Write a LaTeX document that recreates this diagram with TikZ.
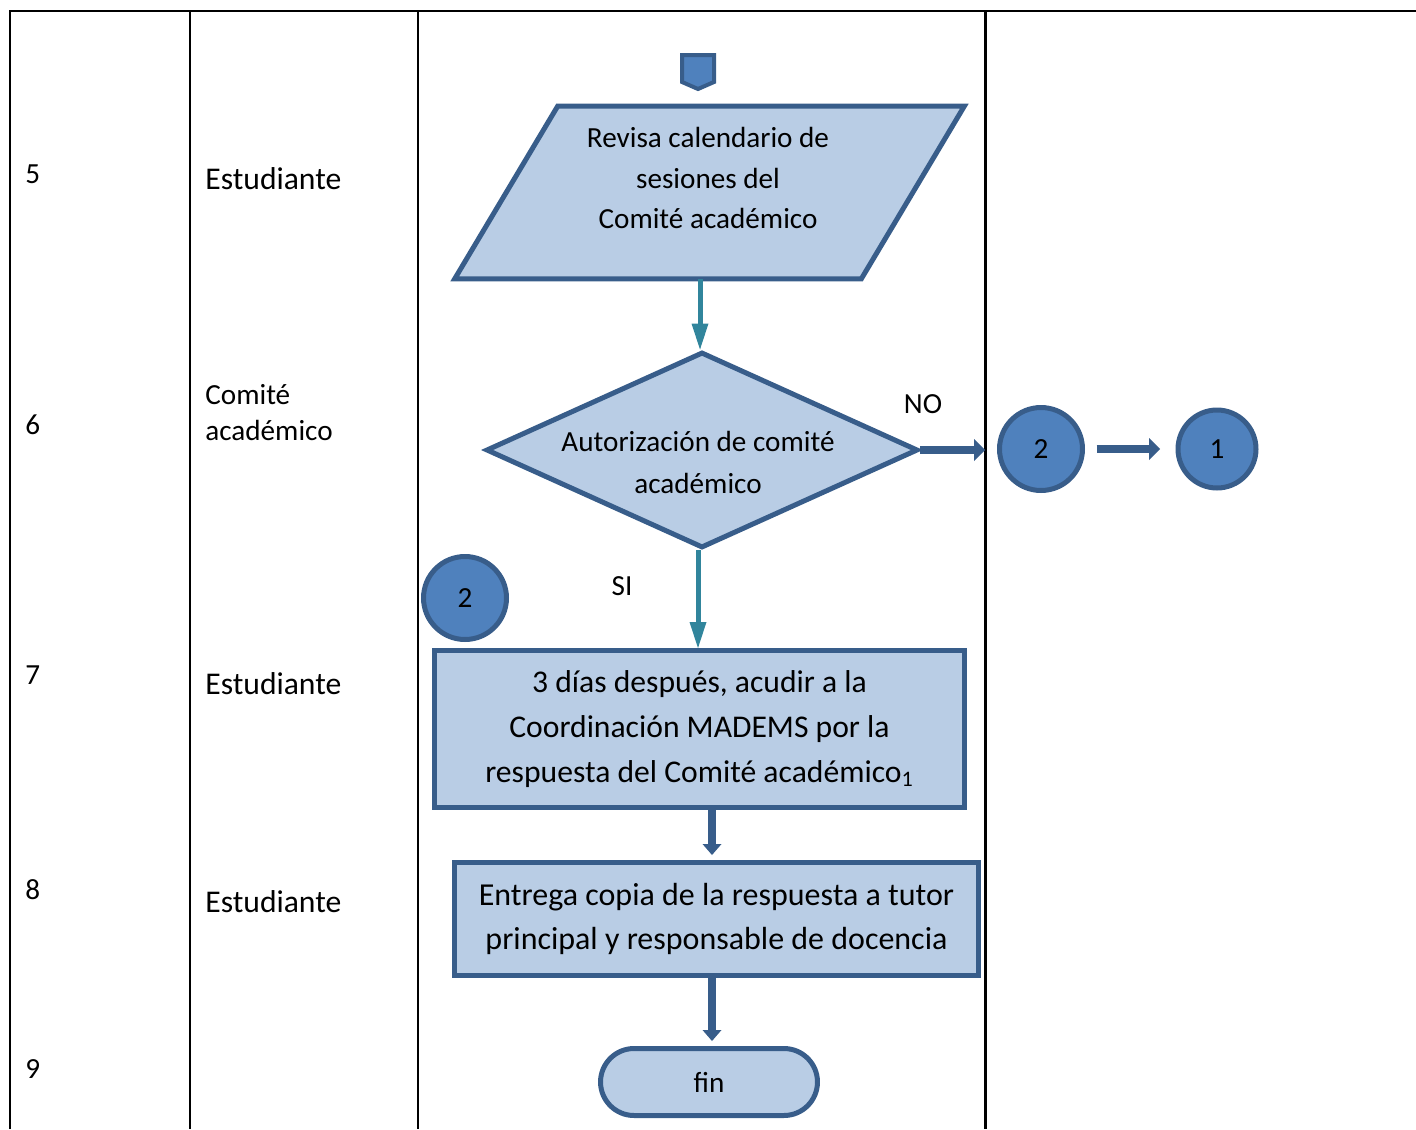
\documentclass[tikz,border=0pt]{standalone}
\usepackage{fontspec}
\setmainfont{Carlito}
\usetikzlibrary{shapes.geometric,shapes.misc}
\definecolor{cajafill}{HTML}{B9CDE5}
\definecolor{cajaline}{HTML}{385D8A}
\definecolor{circfill}{HTML}{4F81BD}
\definecolor{flecha}{HTML}{31859C}
\newcommand{\txtchico}{\fontsize{16.6}{23.3}\selectfont}
\newcommand{\txtgrande}{\fontsize{18}{25.3}\selectfont}

\begin{document}
\begin{tikzpicture}[x=0.02cm, y=0.02cm]
\tikzstyle{every node}+=[inner sep=0pt]
\tikzstyle{caja}=[draw=cajaline, fill=cajafill, line width=0.1cm, align=center]
\tikzstyle{circulo}=[circle, draw=cajaline, fill=circfill, line width=0.1cm, font=\txtchico]
\tikzstyle{rol}=[anchor=west, align=left]
\tikzstyle{fl}=[flecha, line width=0.1cm]
\tikzstyle{flo}=[cajaline, line width=0.16cm]
\useasboundingbox (0,0) rectangle (1416,-1129);
% tabla
\draw [black, line width=1.7pt] (10,-1129) -- (10,-11) -- (1416,-11);
\draw [black, line width=1.7pt] (190,-11) -- (190,-1129);
\draw [black, line width=1.7pt] (418,-11) -- (418,-1129);
\draw [black, line width=1.7pt] (985,-11) -- (985,-1129);
\node [rol, font=\txtchico] (n5) at (25,-174) {5};
\node [rol, font=\txtchico] (n6) at (25,-425) {6};
\node [rol, font=\txtchico] (n7) at (25,-675) {7};
\node [rol, font=\txtchico] (n8) at (25,-890) {8};
\node [rol, font=\txtchico] (n9) at (25,-1069) {9};
\node [rol, font=\txtgrande] (est5) at (205,-179) {Estudiante};
\node [rol, font=\fontsize{16.6}{20.5}\selectfont] (com6) at (205,-413) {Comité\\académico};
\node [rol, font=\txtgrande] (est7) at (205,-684) {Estudiante};
\node [rol, font=\txtgrande] (est8) at (205,-902) {Estudiante};
% conector de pagina
\draw [cajaline, fill=circfill, line width=0.08cm] (682,-55) -- (714,-55) -- (714,-82) -- (698,-89) -- (682,-82) -- cycle;
% figuras
\node [minimum width=10.18cm, minimum height=3.44cm] (rev) at (709.5,-192.5) {};
\draw [caja, line join=miter] ([xshift=2.06cm]rev.north west) -- (rev.north east) -- ([xshift=-2.06cm]rev.south east) -- (rev.south west) -- cycle;
\node [font=\txtchico, align=center] (revtxt) at (708,-178) {Revisa calendario de\\sesiones del\\Comité académico};
\node [caja, diamond, aspect=2.2, minimum width=8.64cm, minimum height=3.92cm] (aut) at (702,-450) {};
\node [font=\fontsize{16.6}{23.9}\selectfont, align=center] (auttxt) at (698,-462) {Autorización de comité\\académico};
\node [circulo, minimum size=1.66cm] (c2r) at (1041,-449) {2};
\node [circulo, minimum size=1.56cm] (c1) at (1217,-449) {1};
\node [circulo, minimum size=1.66cm] (c2l) at (465,-598) {2};
\node [caja, minimum width=10.6cm, minimum height=3.14cm, font=\fontsize{18}{25.6}\selectfont] (dias) at (699.5,-729)
  {3 días después, acudir a la\\Coordinación MADEMS por la\\respuesta del Comité académico\textsubscript{1}};
\node [caja, minimum width=10.48cm, minimum height=2.26cm, font=\fontsize{18.2}{25.3}\selectfont] (entr) at (716.5,-919)
  {Entrega copia de la respuesta a tutor\\principal y responsable de docencia};
\node [caja, rounded rectangle, minimum width=4.34cm, minimum height=1.34cm, font=\txtchico] (fin) at (709,-1082) {fin};
\node [font=\txtchico] (no) at (923,-404) {NO};
\node [font=\txtchico] (si) at (622,-586) {SI};
\coordinate (eje) at (712,-1000);
% flechas
\draw [fl, shorten >=0.4cm] ([xshift=-0.04cm]aut.north |- rev.south) -- ([xshift=-0.04cm]aut.north);
\fill [flecha] ([xshift=-0.04cm]aut.north) -- ++(-8.5,26) -- ++(17,0) -- cycle;
\draw [fl, shorten >=0.4cm] ([xshift=-0.08cm]aut.south) -- ([xshift=-0.08cm]aut.south |- dias.north);
\fill [flecha] ([xshift=-0.08cm]aut.south |- dias.north) -- ++(-8.5,26) -- ++(17,0) -- cycle;
\coordinate (noend) at (985,-450);
\draw [flo, shorten >=0.15cm] (aut.east) -- (noend);
\fill [cajaline] (noend) -- ++(-11,11) -- ++(0,-22) -- cycle;
\draw [flo, shorten <=0.23cm, shorten >=0.45cm] (c2r.east) -- (c1.west);
\fill [cajaline] ([xshift=-0.31cm]c1.west) -- ++(-11,11) -- ++(0,-22) -- cycle;
\draw [flo, shorten >=0.15cm] (dias.south -| eje) -- ([yshift=0.1cm]entr.north -| eje);
\fill [cajaline] ([yshift=0.1cm]entr.north -| eje) -- ++(-9.5,11) -- ++(19,0) -- cycle;
\draw [flo, shorten >=0.15cm] (entr.south -| eje) -- ([yshift=0.1cm]fin.north -| eje);
\fill [cajaline] ([yshift=0.1cm]fin.north -| eje) -- ++(-9.5,11) -- ++(19,0) -- cycle;
\end{tikzpicture}
\end{document}
